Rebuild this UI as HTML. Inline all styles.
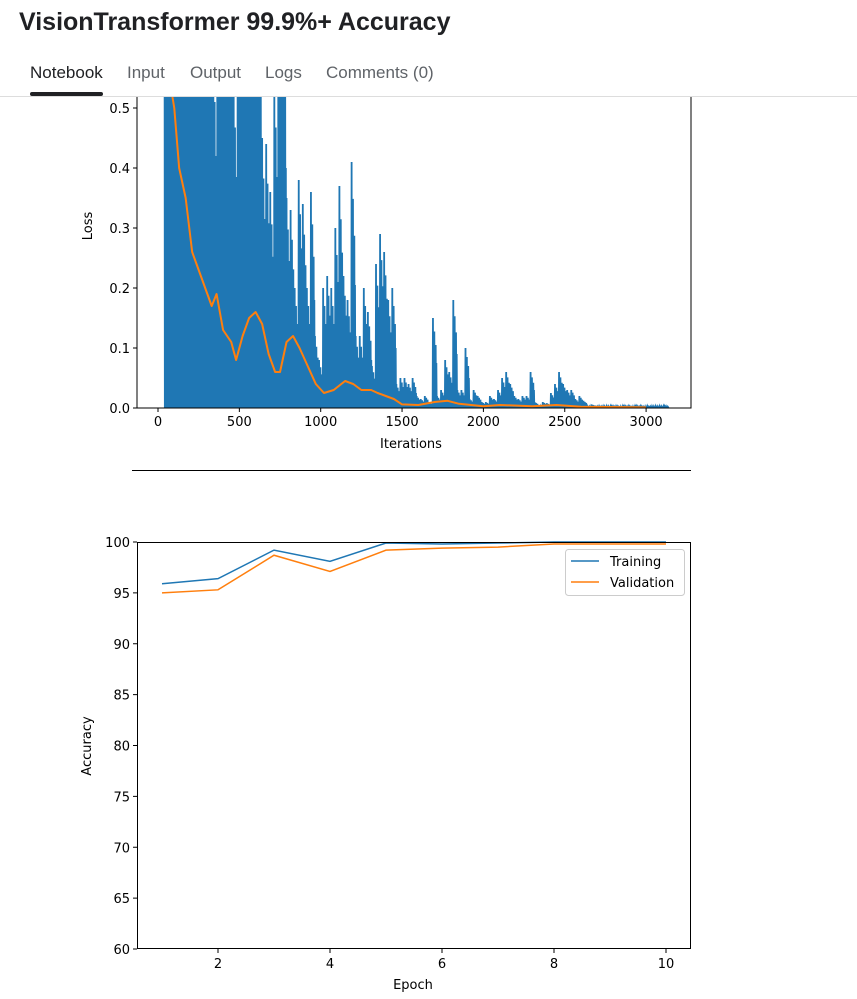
<!DOCTYPE html>
<html><head><meta charset="utf-8"><style>
body{margin:0;width:857px;height:999px;overflow:hidden;background:#fff;font-family:"Liberation Sans",sans-serif;position:relative}
#hdr{position:absolute;left:0;top:0;width:857px;height:96px;background:#fff;border-bottom:1px solid #ddd;z-index:2}
#title{position:absolute;left:19px;top:8px;font-size:25px;font-weight:bold;color:#202124}
.tab{position:absolute;top:63px;font-size:17px;color:#5f6368}
#uline{position:absolute;left:30px;top:92px;width:73px;height:4px;background:#202124;border-radius:2px}
svg{position:absolute;left:0;top:0}
svg text{font-family:"DejaVu Sans",sans-serif;font-size:13px;fill:#000}
</style></head><body>
<div id="hdr">
<div id="title">VisionTransformer 99.9%+ Accuracy</div>
<div class="tab" style="left:30px;color:#202124">Notebook</div>
<div class="tab" style="left:127px">Input</div>
<div class="tab" style="left:190px">Output</div>
<div class="tab" style="left:265px">Logs</div>
<div class="tab" style="left:326px">Comments (0)</div>
<div id="uline"></div>
</div>
<svg id="s" width="857" height="999"></svg>
<script>
const lossIters=[40,65,90,115,140,165,190,215,240,265,290,315,340,365,390,415,440,465,490,515,540,565,590,615,640,665,690,715,740,765,790,815,840,865,890,915,940,965,990,1015,1040,1065,1090,1115,1140,1165,1190,1215,1240,1265,1290,1315,1340,1365,1390,1415,1440,1465,1490,1515,1540,1565,1590,1615,1640,1665,1690,1715,1740,1765,1790,1815,1840,1865,1890,1915,1940,1965,1990,2015,2040,2065,2090,2115,2140,2165,2190,2215,2240,2265,2290,2315,2340,2365,2390,2415,2440,2465,2490,2515,2540,2565,2590,2615,2640,2665,2690,2715,2740,2765,2790,2815,2840,2865,2890,2915,2940,2965,2990,3015,3040,3065,3090,3115];
const lossPeaks=[0.8,0.8,0.8,0.8,0.8,0.8,0.8,0.8,0.8,0.8,0.8,0.8,0.6,0.8,0.8,0.8,0.8,0.55,0.8,0.8,0.8,0.8,0.8,0.8,0.45,0.44,0.36,0.55,0.8,0.8,0.35,0.33,0.2,0.38,0.34,0.2,0.36,0.12,0.08,0.2,0.22,0.2,0.3,0.37,0.22,0.18,0.41,0.12,0.12,0.2,0.16,0.07,0.24,0.29,0.26,0.18,0.2,0.04,0.05,0.05,0.04,0.05,0.02,0.015,0.02,0.01,0.15,0.02,0.03,0.08,0.06,0.18,0.03,0.03,0.1,0.015,0.03,0.02,0.01,0.01,0.02,0.015,0.03,0.05,0.06,0.04,0.02,0.015,0.02,0.02,0.06,0.01,0.005,0.01,0.008,0.025,0.04,0.06,0.04,0.03,0.03,0.015,0.02,0.012,0.004,0.006,0.004,0.004,0.003,0.003,0.002,0.002,0.003,0.002,0.002,0.003,0.002,0.002,0.003,0.004,0.003,0.003,0.003,0.002];
const smoothIters=[70,100,130,170,210,250,290,330,360,400,450,480,520,560,600,640,680,720,750,790,830,870,920,970,1020,1080,1150,1200,1250,1310,1350,1400,1450,1500,1600,1700,1780,1850,2000,2100,2300,2450,2600,3000];
const smoothVals=[0.55,0.5,0.4,0.35,0.26,0.23,0.2,0.17,0.19,0.13,0.11,0.08,0.12,0.15,0.16,0.14,0.09,0.06,0.06,0.11,0.12,0.1,0.07,0.04,0.025,0.03,0.045,0.04,0.03,0.03,0.025,0.02,0.015,0.006,0.005,0.01,0.012,0.007,0.003,0.005,0.003,0.005,0.002,0.001];
const lossYTicks=[0,0.1,0.2,0.3,0.4,0.5];
const lossXTicks=[0,500,1000,1500,2000,2500,3000];
const epochs=[1,2,3,4,5,6,7,8,9,10];
const trainAcc=[95.9,96.4,99.2,98.1,99.9,99.8,99.9,100,100,100];
const valAcc=[95.0,95.3,98.7,97.1,99.2,99.4,99.5,99.8,99.8,99.8];
const accYTicks=[60,65,70,75,80,85,90,95,100];
const accXTicks=[2,4,6,8,10];

const S=document.getElementById('s');const NS='http://www.w3.org/2000/svg';
function mk(t,a,p){const e=document.createElementNS(NS,t);for(const k in a)e.setAttribute(k,a[k]);(p||S).appendChild(e);return e;}
const lx=v=>158+v*0.1627, ly=v=>408-v*600;
const defs=mk('defs',{});const cp=mk('clipPath',{id:'c1'},defs);mk('rect',{x:137,y:60,width:554,height:348},cp);
const g1=mk('g',{'clip-path':'url(#c1)'});
let pts=[];
const mults=[1,0,0.6,0.02,0.85,0,0.4,0.01,0.7,0,0.5,0];
lossIters.forEach((it,i)=>{for(let k=0;k<mults.length;k++){pts.push(lx(it+k*25/mults.length)+','+ly(lossPeaks[i]*mults[k]));}});
const blue=mk('polyline',{points:pts.join(' '),fill:'none',stroke:'#1f77b4','stroke-width':1.8},g1);

const orange=mk('polyline',{points:smoothIters.map((it,i)=>lx(it)+','+ly(smoothVals[i])).join(' '),fill:'none',stroke:'#ff7f0e','stroke-width':2,'stroke-linejoin':'round'},g1);

mk('polyline',{points:'137,60 137,408 691,408 691,60',fill:'none',stroke:'#000','stroke-width':1});
lossYTicks.forEach(v=>{mk('line',{x1:133,x2:137,y1:ly(v),y2:ly(v),stroke:'#000'});const t=mk('text',{x:130,y:ly(v)+5,'text-anchor':'end'});t.textContent=v.toFixed(1);});
lossXTicks.forEach(v=>{mk('line',{x1:lx(v),x2:lx(v),y1:408,y2:412,stroke:'#000'});const t=mk('text',{x:lx(v),y:426,'text-anchor':'middle'});t.textContent=v;});
let t=mk('text',{x:411,y:448,'text-anchor':'middle'});t.textContent='Iterations';
t=mk('text',{x:92,y:226,'text-anchor':'middle',transform:'rotate(-90 92 226)'});t.textContent='Loss';
mk('line',{x1:132,x2:691,y1:470.5,y2:470.5,stroke:'#000'});
const ax=v=>162+(v-1)*56, ay=v=>542+(100-v)*10.175;
const tr=mk('polyline',{points:epochs.map((e,i)=>ax(e)+','+ay(trainAcc[i])).join(' '),fill:'none',stroke:'#1f77b4','stroke-width':1.5});

const va=mk('polyline',{points:epochs.map((e,i)=>ax(e)+','+ay(valAcc[i])).join(' '),fill:'none',stroke:'#ff7f0e','stroke-width':1.5});

mk('rect',{x:137.5,y:542.5,width:553,height:406,fill:'none',stroke:'#000'});
accYTicks.forEach(v=>{mk('line',{x1:133,x2:137,y1:ay(v),y2:ay(v),stroke:'#000'});const q=mk('text',{x:130,y:ay(v)+5,'text-anchor':'end'});q.textContent=v;});
accXTicks.forEach(v=>{mk('line',{x1:ax(v),x2:ax(v),y1:949,y2:953,stroke:'#000'});const q=mk('text',{x:ax(v),y:968,'text-anchor':'middle'});q.textContent=v;});
t=mk('text',{x:413,y:989,'text-anchor':'middle'});t.textContent='Epoch';
t=mk('text',{x:91,y:746,'text-anchor':'middle',transform:'rotate(-90 91 746)'});t.textContent='Accuracy';
const lg=mk('g',{});
mk('rect',{x:565.5,y:549.5,width:119,height:46,rx:3,fill:'#fff',stroke:'#ccc'},lg);
mk('line',{x1:571,x2:599,y1:561,y2:561,stroke:'#1f77b4','stroke-width':1.5},lg);
mk('line',{x1:571,x2:599,y1:582,y2:582,stroke:'#ff7f0e','stroke-width':1.5},lg);
t=mk('text',{x:610,y:566},lg);t.textContent='Training';
t=mk('text',{x:610,y:587},lg);t.textContent='Validation';
</script>
</body></html>
